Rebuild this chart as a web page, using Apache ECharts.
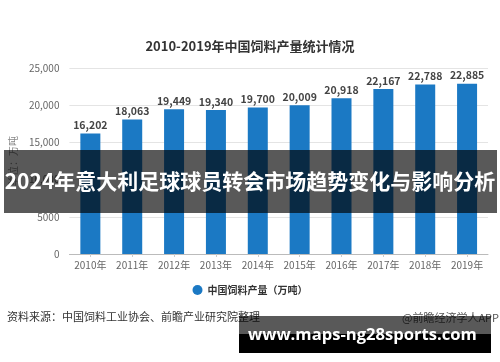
<!DOCTYPE html>
<html>
<head>
<meta charset="utf-8">
<script src="https://cdn.jsdelivr.net/npm/echarts@6/dist/echarts.min.js"></script>
<style>html,body{margin:0;padding:0;background:#fff;}#c{width:500px;height:362px;}</style>
</head>
<body>
<div id="c"></div>
<script>
var categories = ['2010年','2011年','2012年','2013年','2014年','2015年','2016年','2017年','2018年','2019年'];
var production = [16202, 18063, 19449, 19340, 19700, 20009, 20918, 22167, 22788, 22885];
var yTickValues = [0, 5000, 10000, 15000, 20000, 25000];
var yTickLabels = ['0', '5000', '10,000', '15,000', '20,000', '25,000'];
var titleText = '2010-2019年中国饲料产量统计情况';
var seriesName = '中国饲料产量（万吨）';
var yAxisName = '单位：万吨';
var sourceText = '资料来源：中国饲料工业协会、前瞻产业研究院整理';
var creditText = '@前瞻经济学人APP';
var bannerText = '2024年意大利足球球员转会市场趋势变化与影响分析';
var siteText = 'www.maps-ng28sports.com';

var FONT = '"Noto Sans CJK SC", "Noto Sans", sans-serif';
var chart = echarts.init(document.getElementById('c'), null, {renderer: 'canvas'});
chart.setOption({
  backgroundColor: '#fff',
  textStyle: {fontFamily: FONT},
  title: {
    text: titleText, left: 'center', top: 35,
    textStyle: {fontSize: 13, fontWeight: 'bold', color: '#333', fontFamily: FONT}
  },
  legend: {
    data: [seriesName], bottom: 62, left: 'center', icon: 'circle',
    itemWidth: 10, itemHeight: 10, itemGap: 6,
    textStyle: {fontSize: 10, color: '#333', fontWeight: 'bold', fontFamily: FONT}
  },
  grid: {left: 67, right: 12, top: 68, bottom: 108},
  xAxis: {
    type: 'category', data: categories,
    axisLine: {lineStyle: {color: '#bbb'}},
    axisTick: {show: true, alignWithLabel: true, length: 3, lineStyle: {color: '#ccc'}},
    axisLabel: {interval: 0, fontSize: 10, color: '#666', margin: 6, fontFamily: FONT}
  },
  yAxis: {
    type: 'value', min: 0, max: 25000, interval: 5000,
    name: yAxisName, nameLocation: 'middle', nameGap: 50, nameRotate: 90,
    nameTextStyle: {fontSize: 10, color: '#888', fontFamily: FONT},
    axisLine: {show: false}, axisTick: {show: false},
    axisLabel: {
      fontSize: 10, color: '#666', margin: 10, fontFamily: FONT,
      formatter: function (v) { var i = yTickValues.indexOf(v); return i >= 0 ? yTickLabels[i] : v; }
    },
    splitLine: {lineStyle: {color: '#e4e4e4'}}
  },
  series: [{
    name: seriesName, type: 'bar', data: production, barWidth: 20,
    itemStyle: {color: '#1b79c4'},
    label: {
      show: true, position: 'top', distance: 3, fontSize: 10.5, fontWeight: 'bold', color: '#444',
      fontFamily: FONT,
      formatter: function (p) { return p.value.toLocaleString('en-US'); }
    }
  }],
  graphic: [
    {type: 'text', left: 7, top: 311, z: 50,
     style: {text: sourceText, fontSize: 11, fill: '#333', fontFamily: FONT}},
    {type: 'text', right: 1, top: 312, z: 50,
     style: {text: creditText, fontSize: 11, fill: '#555', fontFamily: FONT}},
    {type: 'rect', shape: {x: 4, y: 150, width: 493, height: 63}, z: 100,
     style: {fill: 'rgba(0,0,0,0.65)'}},
    {type: 'text', left: 'center', top: 171, z: 101,
     style: {text: bannerText, fontSize: 21, fontWeight: 'bold', fill: '#fff', fontFamily: FONT}},
    {type: 'rect', shape: {x: 239, y: 316, width: 252, height: 18}, z: 100,
     style: {fill: 'rgba(0,0,0,0.65)'}},
    {type: 'rect', shape: {x: 239, y: 334, width: 252, height: 19}, z: 100,
     style: {fill: '#000'}},
    {type: 'text', left: 248, top: 327, z: 101,
     style: {text: siteText, fontSize: 16.6, fontWeight: 'bold', fill: '#fff', fontFamily: '"Open Sans", "Liberation Sans", sans-serif'}}
  ]
});
</script>
</body>
</html>
